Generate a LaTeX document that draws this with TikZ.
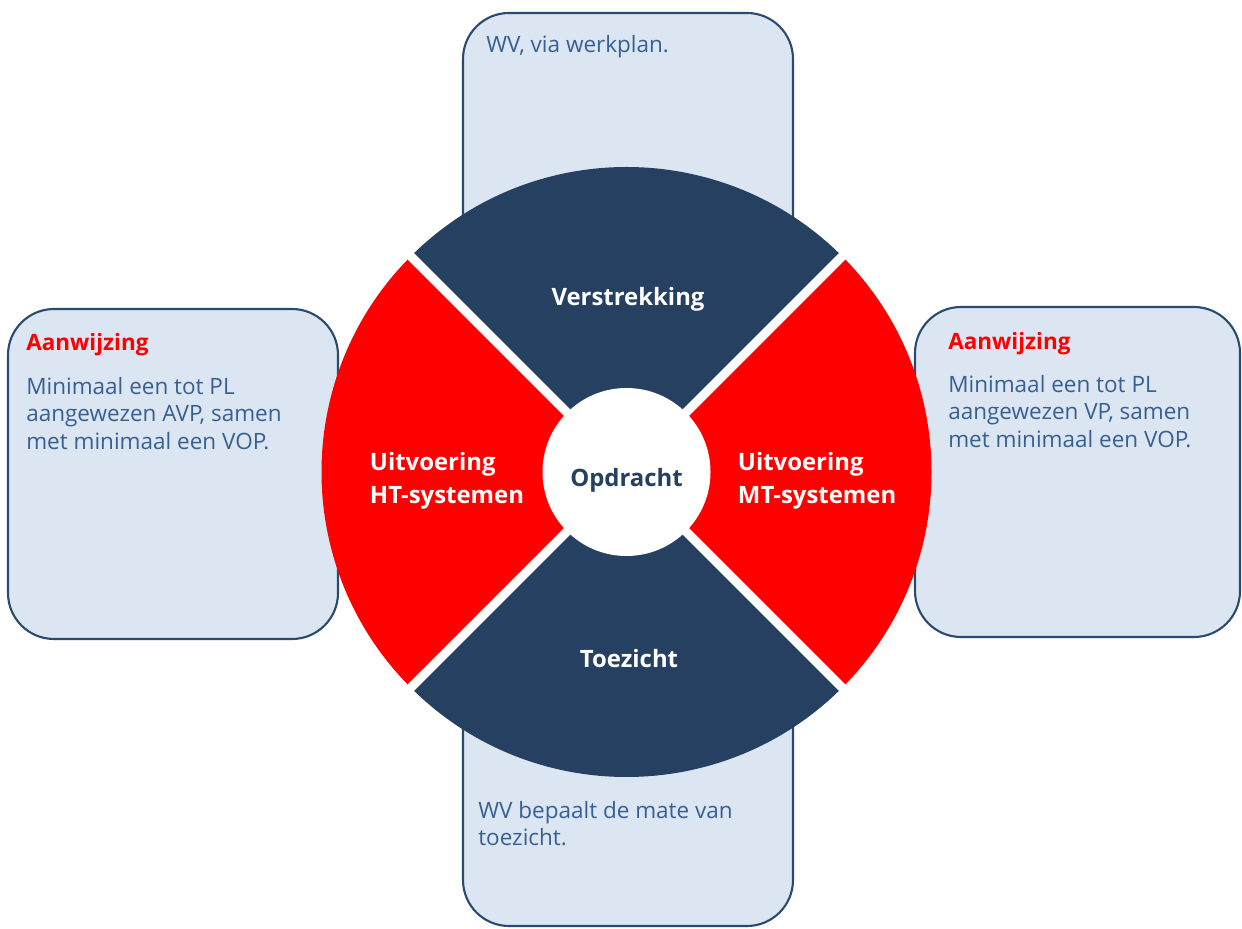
\documentclass[tikz,border=0pt]{standalone}
\usepackage{fontspec}
\setmainfont{Open Sans}
\usepackage{xcolor}
\usetikzlibrary{positioning, calc}

\definecolor{boxfill}{HTML}{DCE6F2}
\definecolor{boxline}{HTML}{2B4A6F}
\definecolor{navy}{HTML}{264061}
\definecolor{bodyblue}{HTML}{376092}

\tikzset{
    infobox/.style={draw=boxline, fill=boxfill, line width=1.5pt, rounded corners=1.15cm},
    boxtitle/.style={anchor=north west, inner sep=0pt, red, font=\fontsize{16}{19.5}\selectfont\bfseries},
    boxtext/.style={anchor=north west, inner sep=0pt, bodyblue, align=left, font=\fontsize{16}{19.5}\selectfont},
    seglabel/.style={white, align=left, font=\fontsize{17}{23.5}\selectfont\bfseries}
}

\begin{document}
\begin{tikzpicture}[x=0.025cm, y=0.025cm]
    \useasboundingbox (0,0) rectangle (1242,928);
    \coordinate (C) at (626.5,456);

    % Info boxes (behind the wheel)
    \draw[infobox] (463,598) rectangle (793,915);
    \draw[infobox] (463,2) rectangle (793,308);
    \draw[infobox] (8,289) rectangle (338,619);
    \draw[infobox] (915,291) rectangle (1240,621);

    % The wheel: four quarters
    \foreach \a/\c in {45/navy, 135/red, 225/navy, 315/red} {
        \fill[\c] (C) -- ++(\a:305) arc[start angle=\a, end angle=\a+90, radius=305] -- cycle;
    }
    % White gaps between the quarters
    \foreach \a in {45, 135, 225, 315} {
        \draw[white, line width=0.225cm] (C) -- ++(\a:320);
    }
    \fill[white] (C) circle[radius=84];

    % Wheel labels
    \node[seglabel] (verstrekking) at (628,629) {Verstrekking};
    \node[seglabel] (toezicht) at (629,269) {Toezicht};
    \node[seglabel, anchor=west] (uitvoeringHT) at (365,447) {Uitvoering\\HT-systemen};
    \node[seglabel, anchor=west] (uitvoeringMT) at (733,447) {Uitvoering\\MT-systemen};
    \node[seglabel, navy] (opdracht) at (626.5,448) {Opdracht};

    % Box texts
    \node[boxtext] (werkplan) at (486,893) {WV, via werkplan.};
    \node[boxtext] (mate) at (478,127) {WV bepaalt de mate van\\toezicht.};
    \node[boxtitle] (aanwijzingL) at (26,595) {Aanwijzing};
    \node[boxtext] (avp) at (26,551) {Minimaal een tot PL\\aangewezen AVP, samen\\met minimaal een VOP.};
    \node[boxtitle] (aanwijzingR) at (948,596) {Aanwijzing};
    \node[boxtext] (vp) at (948,553) {Minimaal een tot PL\\aangewezen VP, samen\\met minimaal een VOP.};
\end{tikzpicture}
\end{document}
